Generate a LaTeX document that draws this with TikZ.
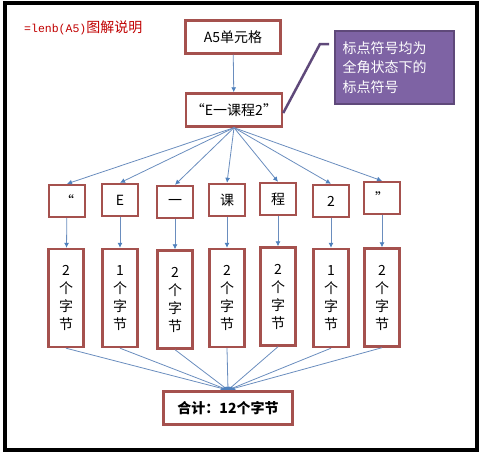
\documentclass[tikz,border=0pt]{standalone}
\usepackage{fontspec}
\setmainfont{Noto Sans CJK SC}
\setmonofont{Liberation Mono}
\usepackage{xcolor}
\usetikzlibrary{arrows.meta,positioning}
\definecolor{boxred}{HTML}{A5514E}
\definecolor{linkblue}{HTML}{6A8DBE}
\definecolor{tipblue}{HTML}{4F81BD}
\definecolor{notepurple}{HTML}{7E63A4}
\definecolor{notedark}{HTML}{5F497A}
\definecolor{titlered}{HTML}{C00000}

\tikzset{
    cellbox/.style={draw=boxred, line width=2.4pt, fill=white, inner sep=1pt,
        font=\fontsize{14}{18}\selectfont, align=center},
    charbox/.style={cellbox, minimum width=36pt, minimum height=32pt},
    countbox/.style={cellbox, minimum width=35pt, minimum height=98pt},
    link/.style={draw=linkblue, line width=0.8pt, -{Latex[length=5pt,width=5pt,color=tipblue]}},
    sumlink/.style={draw=linkblue, line width=0.8pt}
}

\begin{document}
\begin{tikzpicture}[x=1pt,y=-1pt]
    \useasboundingbox (0,0) rectangle (482,455);

    % Frame
    \draw[black, line width=4pt] (5,3) rectangle (477,450);

    % Title
    \node[anchor=west, color=titlered, inner sep=0pt] (title) at (24,28)
        {{\ttfamily\fontsize{11.5}{14}\selectfont =lenb(A5)}{\fontsize{14}{16}\selectfont 图解说明}};

    % Cell and its text
    \node[cellbox, minimum width=95pt, minimum height=33pt] (cell) at (233,37) {A5单元格};
    \node[cellbox, minimum width=96pt, minimum height=33pt] (txt) at (234,110) {“E一课程2”};

    % Note
    \node[fill=notepurple, draw=notedark, line width=1.5pt, text=white, align=left,
        minimum width=119pt, minimum height=73pt, text width=104pt,
        font=\fontsize{14}{19.5}\selectfont] (note) at (394.5,67.5)
        {标点符号均为\\全角状态下的\\标点符号};
    \coordinate (knee) at (320,44);
    \coordinate (tip) at (329,44);
    \draw[notedark, line width=2.5pt] ([yshift=-3pt]txt.east) -- (knee) -- (tip);

    % Characters
    \node[charbox] (c1) at (67,201) {“};
    \node[charbox] (c2) at (120,200) {E};
    \node[charbox] (c3) at (175,202) {一};
    \node[charbox] (c4) at (227,200) {课};
    \node[charbox] (c5) at (278,199) {程};
    \node[charbox] (c6) at (331,201) {2};
    \node[charbox] (c7) at (382,198) {”};

    % Byte counts
    \node[countbox] (b1) at (66,298) {2\\个\\字\\节};
    \node[countbox] (b2) at (120,298) {1\\个\\字\\节};
    \node[countbox] (b3) at (175,299.5) {2\\个\\字\\节};
    \node[countbox] (b4) at (227,298) {2\\个\\字\\节};
    \node[countbox] (b5) at (278,296.5) {2\\个\\字\\节};
    \node[countbox] (b6) at (331,298) {1\\个\\字\\节};
    \node[countbox] (b7) at (382,297.5) {2\\个\\字\\节};

    % Arrows
    \draw[link] (cell) -- (txt);
    \foreach \i in {1,...,7} {
        \draw[link] (txt.south) -- (c\i.north);
        \draw[link] (c\i) -- (b\i);
    }

    % Total
    \coordinate (hub) at (228,390);
    \foreach \i in {1,...,7}
        \draw[sumlink] (b\i.south) -- (hub);
    \fill[tipblue] (228,393) ellipse[x radius=9pt, y radius=6.5pt];
    \node[cellbox, minimum width=129pt, minimum height=33pt, font=\fontsize{14}{18}\selectfont\bfseries] (sum) at (228,408)
        {合计：12个字节};
\end{tikzpicture}
\end{document}
